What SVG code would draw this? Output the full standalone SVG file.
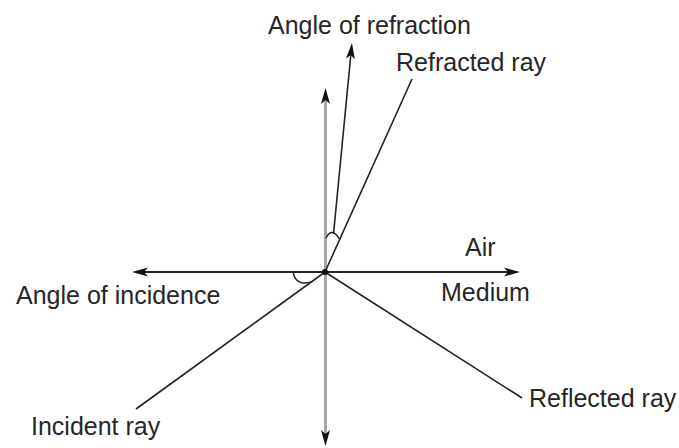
<svg xmlns="http://www.w3.org/2000/svg" width="679" height="448" viewBox="0 0 679 448">
  <style>
    .lbl { font-family: "Liberation Sans", Arial, sans-serif; font-size: 25px; fill: #262626; }
    .ray { stroke: #222; stroke-width: 1.6; fill: none; }
    .axis { stroke: #222; stroke-width: 2; fill: none; }
    .normal { stroke: #a6a6a6; stroke-width: 3; fill: none; }
    .arc { stroke: #222; stroke-width: 1.4; fill: none; }
  </style>
  <defs>
    <marker id="arrow" markerUnits="userSpaceOnUse" markerWidth="18" markerHeight="12" refX="6" refY="6" orient="auto-start-reverse" viewBox="0 0 18 12">
      <path d="M16,6 L0,1.5 L4,6 L0,10.5 Z" fill="#111"/>
    </marker>
  </defs>
  <rect width="679" height="448" fill="#ffffff"/>

  <g id="connectors">
    <line id="normal" class="normal" x1="325.5" y1="98" x2="325.5" y2="436" marker-start="url(#arrow)" marker-end="url(#arrow)"/>
    <line id="interface" class="axis" x1="142" y1="272" x2="510" y2="272" marker-start="url(#arrow)" marker-end="url(#arrow)"/>
    <line id="refracted" class="ray" x1="325" y1="272" x2="412" y2="79"/>
    <line id="incident" class="ray" x1="325" y1="272" x2="136" y2="409"/>
    <line id="reflected" class="ray" x1="325" y1="272" x2="522" y2="398"/>
    <line id="refraction-pointer" class="ray" x1="333.5" y1="234" x2="351" y2="53" marker-end="url(#arrow)"/>
    <path id="refraction-arc" class="arc" d="M326,238 Q332,226 340,240"/>
    <path id="incidence-arc" class="arc" d="M293,272 Q296,287 312,281.6"/>
  </g>

  <g id="origin">
    <circle cx="325" cy="272" r="3" fill="#111"/>
  </g>

  <g id="label-angle-refraction"><text class="lbl" x="268" y="34">Angle of refraction</text></g>
  <g id="label-refracted-ray"><text class="lbl" x="396" y="71">Refracted ray</text></g>
  <g id="label-air"><text class="lbl" x="465" y="256">Air</text></g>
  <g id="label-medium"><text class="lbl" x="441" y="301">Medium</text></g>
  <g id="label-angle-incidence"><text class="lbl" x="16" y="304">Angle of incidence</text></g>
  <g id="label-incident-ray"><text class="lbl" x="31" y="435">Incident ray</text></g>
  <g id="label-reflected-ray"><text class="lbl" x="529" y="407">Reflected ray</text></g>
</svg>
